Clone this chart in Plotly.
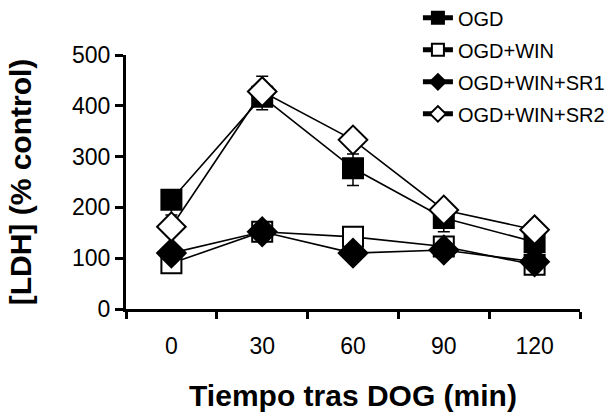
import plotly.graph_objects as go

categories = ["0", "30", "60", "90", "120"]
ogd = [215, 418, 277, 179, 132]
ogd_err_plus = [0, 40, 28, 0, 0]
ogd_err_minus = [30, 26, 34, 27, 0]
ogd_win = [90, 152, 142, 123, 87]
ogd_win_sr1 = [110, 152, 110, 116, 93]
ogd_win_sr2 = [162, 428, 333, 195, 156]
sr2_err_plus = [0, 0, 16, 12, 11]
sr2_err_minus = [12, 0, 0, 0, 0]
y_ticks = [0, 100, 200, 300, 400, 500]

FONT = "Liberation Sans, Arial, sans-serif"

fig = go.Figure()

def add(name, y, symbol, fill, size, ep=None, em=None):
    err = None
    if ep is not None:
        err = dict(type="data", array=ep, arrayminus=em, symmetric=False,
                   color="black", thickness=1.5, width=6)
    fig.add_trace(go.Scatter(
        x=categories, y=y, name=name, mode="lines+markers",
        line=dict(color="black", width=1.6),
        marker=dict(symbol=symbol, size=size, color=fill,
                    line=dict(color="black", width=2)),
        error_y=err, legendgroup=name,
    ))

add("OGD", ogd, "square", "black", 20, ogd_err_plus, ogd_err_minus)
add("OGD+WIN", ogd_win, "square", "white", 20)
add("OGD+WIN+SR1", ogd_win_sr1, "diamond", "black", 22)
add("OGD+WIN+SR2", ogd_win_sr2, "diamond", "white", 22, sr2_err_plus, sr2_err_minus)

fig.update_layout(
    width=614, height=416,
    margin=dict(l=126, r=34, t=55, b=107, autoexpand=False),
    plot_bgcolor="white", paper_bgcolor="white",
    font=dict(family=FONT, color="black"),
    showlegend=True,
    legend=dict(x=0.643, y=1.223, xanchor="left", yanchor="top",
                font=dict(size=20, family=FONT), itemsizing="constant",
                tracegroupgap=3, bgcolor="rgba(0,0,0,0)"),
    xaxis=dict(type="category", range=[-0.5, 4.5], tickson="boundaries",
               showline=True, linecolor="black", linewidth=3,
               ticks="outside", ticklen=7, tickwidth=3, tickcolor="black",
               tickfont=dict(size=23), showgrid=False, zeroline=False,
               automargin=False, ticklabelstandoff=14,
               title=dict(text="<b>Tiempo tras DOG (min)</b>", font=dict(size=30), standoff=28)),
    yaxis=dict(range=[0, 500], tickvals=y_ticks,
               showline=True, linecolor="black", linewidth=3,
               ticks="outside", ticklen=8, tickwidth=3, tickcolor="black",
               tickfont=dict(size=23), showgrid=False, zeroline=False,
               automargin=False,
               title=dict(text="<b>[LDH] (% control)</b>", font=dict(size=30), standoff=32)),
)

fig.write_html("out.html", config={"displayModeBar": False},
               post_script="document.body.style.margin='0';")
